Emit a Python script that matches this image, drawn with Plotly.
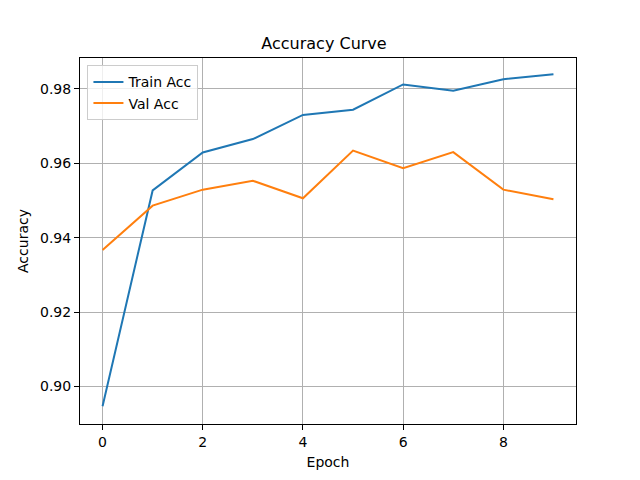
import plotly.graph_objects as go

epochs = list(range(10))
train_acc = [0.8947, 0.9527, 0.9629, 0.9665, 0.9730, 0.9744, 0.9812, 0.9795, 0.9826, 0.9839]
val_acc = [0.9367, 0.9486, 0.9529, 0.9553, 0.9506, 0.9634, 0.9587, 0.9630, 0.9529, 0.9503]

fig = go.Figure()
fig.add_trace(go.Scatter(x=epochs, y=train_acc, mode="lines", name="Train Acc",
                         line=dict(color="#1f77b4", width=2)))
fig.add_trace(go.Scatter(x=epochs, y=val_acc, mode="lines", name="Val Acc",
                         line=dict(color="#ff7f0e", width=2)))

axis_style = dict(
    showline=True, linecolor="black", linewidth=1, mirror=True,
    ticks="outside", ticklen=5, tickcolor="black",
    showgrid=True, gridcolor="#b0b0b0", gridwidth=1, zeroline=False,
    tickfont=dict(size=14, color="black"),
)

# page has an 8px body margin, so the figure is a bit smaller than the window
fig.update_layout(
    width=632, height=472,
    margin=dict(l=72, r=64, t=50, b=52),
    paper_bgcolor="white", plot_bgcolor="white",
    font=dict(family="DejaVu Sans", color="black"),
    title=dict(text="Accuracy Curve", x=0.5, xanchor="center", y=0.925, yanchor="middle",
               font=dict(size=16)),
    xaxis=dict(axis_style, range=[-0.45, 9.45], dtick=2, tick0=0,
               title=dict(text="Epoch", font=dict(size=14), standoff=8)),
    yaxis=dict(axis_style, range=[0.8899, 0.9883], dtick=0.02, tick0=0.9, tickformat=".2f",
               title=dict(text="Accuracy", font=dict(size=14), standoff=8)),
    legend=dict(x=0.015, y=0.98, xanchor="left", yanchor="top",
                bgcolor="rgba(255,255,255,0.8)", bordercolor="#cccccc", borderwidth=1,
                font=dict(size=14), tracegroupgap=0),
)

fig.write_html("out.html")
